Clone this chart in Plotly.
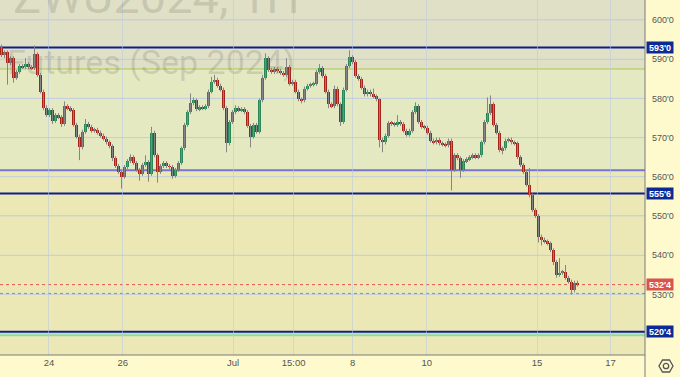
import plotly.graph_objects as go

# ---------------- data (ZW Sep 2024, 1H) ----------------
first_open = 593.0
closes = [
    591.0, 591.75, 589.0, 590.25, 585.25, 586.75, 588.25, 588.0, 588.75, 588.0,
    587.75, 591.25, 586.0, 581.75, 577.5, 575.75, 577.0, 574.25, 575.75, 575.25,
    573.5, 578.0, 577.5, 577.0, 573.25, 570.25, 567.5, 571.5, 573.5, 572.75,
    571.75, 572.0, 571.25, 570.5, 569.75, 568.75, 567.75, 564.75, 562.75, 561.25,
    560.0, 562.5, 564.0, 565.0, 563.5, 561.75, 560.75, 563.0, 563.75, 560.75,
    571.25, 565.5, 561.25, 562.75, 563.5, 562.75, 562.5, 560.25, 561.75, 563.5,
    567.25, 573.25, 576.5, 578.75, 579.5, 577.25, 577.75, 577.5, 578.0, 581.75,
    584.25, 584.75, 583.25, 582.25, 577.5, 568.5, 574.0, 576.5, 577.5, 577.0,
    577.25, 576.5, 573.0, 570.25, 573.25, 571.5, 579.5, 585.25, 590.25, 587.25,
    586.75, 587.5, 587.0, 586.5, 586.0, 588.0, 583.75, 584.25, 581.75, 579.75,
    579.5, 582.5, 583.25, 583.5, 583.75, 586.75, 587.75, 585.75, 581.75, 578.5,
    578.0, 582.5, 578.5, 574.0, 582.25, 588.25, 590.5, 589.25, 585.75, 585.0,
    582.75, 581.0, 581.75, 581.0, 580.5, 579.75, 569.5, 568.75, 570.5, 573.75,
    573.5, 573.25, 574.0, 573.5, 571.75, 570.75, 571.75, 576.5, 578.0, 574.0,
    572.75, 572.5, 571.25, 569.25, 568.75, 569.5, 568.5, 568.25, 568.0, 569.25,
    561.75, 565.5, 564.75, 561.75, 564.0, 564.5, 565.0, 565.5, 565.0, 565.5,
    568.75, 574.0, 576.25, 578.5, 573.25, 571.25, 566.75, 567.25, 569.25, 569.5,
    568.75, 568.5, 565.0, 563.0, 561.25, 558.0, 555.25, 551.5, 550.0, 544.75,
    544.0, 543.5, 543.0, 541.25, 538.25, 535.0, 535.5, 535.75, 534.25, 533.25,
    531.0, 533.0, 532.5,
]
wick_up = [
    0.75, 0.5, 0.5, 0.5, 0.5, 0.5, 0.5, 0.5, 1.5, 0.5,
    0.5, 2.25, 0.5, 0.5, 0.5, 0.75, 0.5, 0.5, 0.5, 0.5,
    0.5, 1.25, 0.5, 0.5, 0.5, 0.5, 0.5, 0.5, 1.25, 0.5,
    0.5, 0.5, 0.5, 0.5, 0.5, 0.5, 0.5, 0.5, 0.5, 0.5,
    0.5, 0.5, 0.5, 0.75, 0.5, 0.5, 0.5, 0.5, 1.75, 0.5,
    1.5, 0.5, 0.5, 0.5, 0.5, 0.5, 0.5, 0.5, 0.5, 0.5,
    0.5, 0.5, 0.5, 2.5, 0.75, 0.5, 0.5, 0.5, 0.5, 0.5,
    1.25, 1.25, 0.5, 0.5, 0.5, 0.5, 0.5, 0.5, 0.75, 0.5,
    0.5, 0.5, 0.5, 0.5, 0.5, 0.5, 0.5, 0.75, 1.25, 0.5,
    0.5, 0.5, 0.5, 0.5, 0.5, 2.25, 0.5, 0.5, 0.5, 0.5,
    0.5, 0.5, 0.5, 0.5, 0.5, 0.5, 1.0, 0.5, 0.5, 0.5,
    0.5, 0.75, 0.5, 0.5, 0.5, 0.5, 1.75, 0.5, 0.5, 0.5,
    0.5, 0.5, 0.5, 0.5, 1.5, 0.5, 0.25, 0.5, 0.5, 0.5,
    0.5, 0.5, 1.75, 0.5, 0.5, 0.5, 0.5, 0.5, 1.0, 0.5,
    0.5, 0.5, 0.5, 0.5, 0.5, 0.5, 0.5, 0.5, 0.5, 0.5,
    0.5, 0.5, 0.5, 0.5, 0.5, 0.5, 0.5, 0.5, 0.5, 0.5,
    0.5, 0.5, 4.0, 2.25, 0.5, 0.5, 0.5, 0.5, 0.5, 0.5,
    0.5, 0.5, 0.5, 0.5, 0.5, 0.5, 4.25, 0.5, 0.5, 0.5,
    0.5, 0.5, 0.5, 0.5, 0.5, 0.5, 3.75, 0.5, 1.75, 0.5,
    0.5, 0.5, 0.5,
]
wick_dn = [
    0.5, 0.75, 5.5, 0.5, 1.25, 0.5, 0.5, 0.5, 0.5, 0.5,
    0.5, 0.5, 0.5, 0.5, 0.5, 0.5, 0.5, 0.75, 0.5, 0.5,
    0.75, 0.5, 0.5, 0.5, 0.5, 0.5, 3.25, 0.5, 0.5, 0.5,
    0.5, 0.5, 0.5, 0.5, 0.5, 0.5, 0.5, 0.75, 0.5, 0.5,
    3.0, 0.5, 0.5, 0.5, 0.5, 0.5, 1.75, 0.5, 0.5, 2.0,
    0.5, 0.5, 2.75, 0.5, 0.5, 0.5, 0.5, 0.75, 0.5, 0.5,
    0.5, 0.5, 0.5, 0.5, 0.5, 0.5, 0.5, 0.5, 0.5, 0.5,
    0.5, 0.5, 0.5, 0.5, 0.5, 2.25, 0.5, 0.5, 0.5, 0.5,
    0.5, 0.5, 0.5, 2.75, 0.5, 0.5, 0.5, 0.5, 0.5, 0.5,
    0.5, 0.5, 0.5, 0.5, 0.5, 0.5, 0.5, 0.5, 0.5, 0.5,
    0.75, 0.5, 0.5, 0.5, 0.5, 0.5, 0.5, 0.5, 0.5, 1.0,
    0.5, 0.5, 0.5, 1.0, 0.5, 0.5, 0.5, 0.5, 0.5, 0.5,
    0.5, 0.5, 0.5, 0.5, 0.5, 0.5, 2.0, 2.5, 0.5, 0.5,
    0.5, 0.5, 0.5, 0.5, 0.5, 0.5, 0.5, 0.5, 0.5, 0.5,
    0.5, 0.5, 0.5, 0.5, 0.5, 0.5, 0.5, 0.5, 0.5, 0.5,
    5.25, 0.5, 0.5, 2.0, 0.5, 0.5, 0.5, 0.5, 0.5, 0.5,
    0.5, 0.5, 0.5, 0.5, 0.5, 0.5, 0.5, 1.0, 0.5, 0.5,
    0.5, 0.5, 0.5, 0.5, 0.5, 0.5, 0.5, 0.5, 0.5, 1.5,
    1.5, 0.5, 0.5, 0.5, 0.75, 0.75, 0.5, 0.5, 0.5, 0.5,
    1.0, 0.5, 0.5,
]

# time axis labels (bar-index positions of session boundaries)
tick_pos = [15.83, 40.4, 77.17, 97.37, 117.03, 141.73, 178.5, 203.03]
tick_text = ["24", "26", "Jul", "15:00", "8", "10", "15", "17"]

# price axis (520'0 is hidden behind the 520'4 marker in the original)
price_ticks = [530, 540, 550, 560, 570, 580, 590, 600]
price_tick_text = [f"{p}'0" for p in price_ticks]
grid_prices = [520, 530, 540, 550, 560, 570, 580, 590, 600]

# drawn levels
level_593 = 593.0
level_5875 = 587.5
level_5617 = 561.7
level_5557 = 555.75
level_5205 = 520.5
level_5196 = 519.6
last_price = 532.5
dotted_grey = 530.25
label_levels = [593.0, 555.75, 520.5]
label_texts = ["593'0", "555'6", "520'4"]
last_label = "532'4"

# ---------------- derived ----------------
opens = [first_open] + closes[:-1]
n = len(closes)
idx = list(range(n))
body_lo = [min(o, c) for o, c in zip(opens, closes)]
body_hi = [max(o, c) for o, c in zip(opens, closes)]
highs = [b + w for b, w in zip(body_hi, wick_up)]
lows = [b - w for b, w in zip(body_lo, wick_dn)]

UP = "#2c8658"
DOWN = "#a5241c"
colors = [UP if c >= o else DOWN for o, c in zip(opens, closes)]

wx, wy = [], []
for i in idx:
    wx += [i, i, None]
    wy += [lows[i], highs[i], None]

fig = go.Figure()
fig.add_trace(go.Scatter(x=wx, y=wy, mode="lines",
                         line=dict(color="#858585", width=1),
                         hoverinfo="skip", showlegend=False))
fig.add_trace(go.Bar(x=idx, y=[max(h - l, 0.15) for h, l in zip(body_hi, body_lo)],
                     base=body_lo, width=0.78,
                     marker=dict(color=colors, line=dict(width=0)),
                     hoverinfo="skip", showlegend=False))

Y0, Y1 = 514.54, 605.1
shapes = []
# background zones
shapes.append(dict(type="rect", xref="paper", yref="y", x0=0, x1=1, y0=level_5875, y1=Y1,
                   fillcolor="#e0e0c6", line=dict(width=0), layer="below"))
shapes.append(dict(type="rect", xref="paper", yref="y", x0=0, x1=1, y0=level_5617, y1=level_5875,
                   fillcolor="#e4e9c2", line=dict(width=0), layer="below"))
shapes.append(dict(type="rect", xref="paper", yref="y", x0=0, x1=1, y0=Y0, y1=level_5617,
                   fillcolor="#ece8b6", line=dict(width=0), layer="below"))


def hline(y, color, width, dash="solid", layer="between"):
    shapes.append(dict(type="line", xref="paper", yref="y", x0=0, x1=1, y0=y, y1=y,
                       line=dict(color=color, width=width, dash=dash), layer=layer))


# horizontal grid (520 included although its label is hidden)
for g in grid_prices:
    hline(g, "rgba(185,200,225,0.55)", 1, layer="below")

hline(level_5875, "#a9c94c", 1)
hline(level_5617, "#7474d2", 2)
hline(level_593, "#0c1f8c", 2)
hline(level_5557, "#0c1f8c", 2)
hline(level_5196, "#86dea6", 2)
hline(level_5205, "#0c1f8c", 2)
hline(last_price, "#e0584c", 1, "dot")
hline(dotted_grey, "#8e8e8e", 1, "dot")

# axis separators
shapes.append(dict(type="line", xref="paper", yref="paper", x0=1, x1=1, y0=-22 / 355, y1=1,
                   line=dict(color="#7a7a7a", width=1), layer="above"))
shapes.append(dict(type="line", xref="paper", yref="paper", x0=0, x1=1, y0=0, y1=0,
                   line=dict(color="#7a7a7a", width=1), layer="above"))
# settings icon (hexagon + circle)
shapes.append(dict(type="path", xref="paper", yref="paper", xsizemode="pixel", ysizemode="pixel",
                   xanchor=666 / 645, yanchor=-11 / 355,
                   path="M 7 0 L 3.5 6 L -3.5 6 L -7 0 L -3.5 -6 L 3.5 -6 Z",
                   line=dict(color="#555555", width=1.3), layer="above"))
shapes.append(dict(type="circle", xref="paper", yref="paper", xsizemode="pixel", ysizemode="pixel",
                   xanchor=666 / 645, yanchor=-11 / 355, x0=-2.7, x1=2.7, y0=-2.7, y1=2.7,
                   line=dict(color="#555555", width=1.3), layer="above"))

annotations = []
# watermark
annotations.append(dict(text="ZWU2024, 1H", xref="paper", yref="paper", x=302 / 645, y=1 + 4 / 355,
                        xanchor="right", yanchor="middle", showarrow=False,
                        font=dict(family="Roboto", size=47, color="rgba(110,110,100,0.22)")))
annotations.append(dict(text="Wheat Futures (Sep 2024)", xref="paper", yref="paper",
                        x=297 / 645, y=1 - 62 / 355,
                        xanchor="right", yanchor="middle", showarrow=False,
                        font=dict(family="Roboto", size=34, color="rgba(110,110,100,0.22)")))
# price labels
for lv, tx in zip(label_levels, label_texts):
    annotations.append(dict(text=f"<b>{tx}</b>", xref="paper", yref="y", x=1, y=lv,
                            xanchor="left", yanchor="middle", xshift=1, showarrow=False,
                            bgcolor="#0c2a96", width=26, height=11, borderpad=0,
                            font=dict(family="Liberation Sans", size=9, color="white")))
annotations.append(dict(text=f"<b>{last_label}</b>", xref="paper", yref="y", x=1, y=last_price,
                        xanchor="left", yanchor="middle", xshift=1, showarrow=False,
                        bgcolor="#d9534a", width=26, height=11, borderpad=0,
                        font=dict(family="Liberation Sans", size=9, color="white")))

fig.update_layout(
    width=680, height=377, autosize=False,
    margin=dict(l=0, r=35, t=0, b=22, pad=0),
    paper_bgcolor="#fffacd", plot_bgcolor="#ece8b6",
    showlegend=False, bargap=0,
    shapes=shapes, annotations=annotations,
    xaxis=dict(range=[-0.5, 214.5], tickvals=tick_pos, ticktext=tick_text,
               showgrid=True, gridcolor="rgba(185,200,225,0.55)", gridwidth=1,
               zeroline=False, showline=False, ticks="",
               tickfont=dict(family="Liberation Sans", size=9.5, color="#555555"),
               fixedrange=True),
    yaxis=dict(range=[Y0, Y1], side="right", tickvals=price_ticks, ticktext=price_tick_text,
               showgrid=True, gridcolor="rgba(185,200,225,0.55)", gridwidth=1,
               zeroline=False, showline=False, ticks="", ticklabelstandoff=6,
               tickfont=dict(family="Liberation Sans", size=9, color="#555555"),
               fixedrange=True),
    hovermode=False,
)

fig.write_html("out.html")
